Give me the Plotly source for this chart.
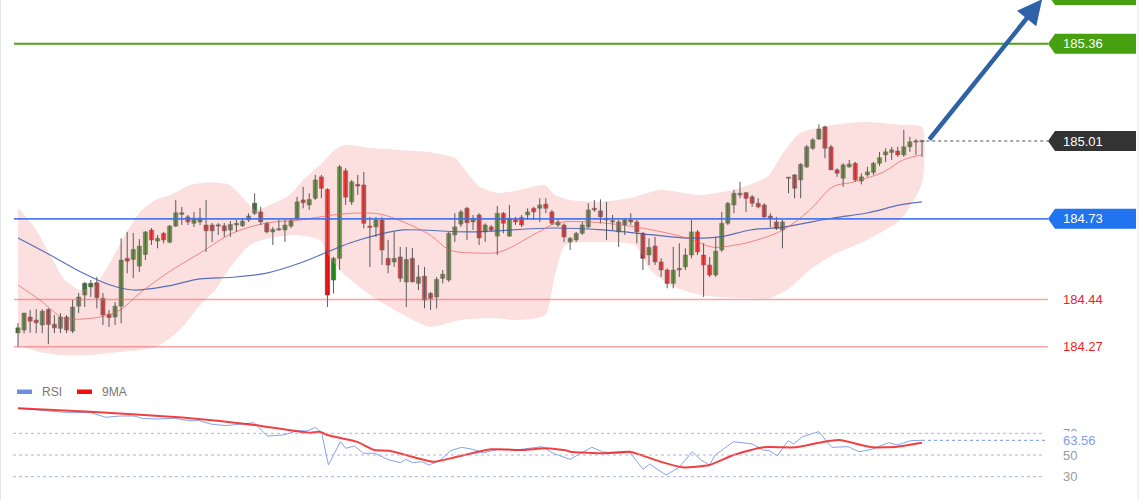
import plotly.graph_objects as go

# ---------------- data ----------------
open_ = [184.320, 184.330, 184.377, 184.366, 184.348, 184.404, 184.351, 184.336, 184.377, 184.326,
         184.416, 184.456, 184.485, 184.500, 184.444, 184.387, 184.377, 184.416, 184.588, 184.584,
         184.560, 184.602, 184.690, 184.650, 184.678, 184.646, 184.704, 184.746, 184.737, 184.714,
         184.719, 184.708, 184.708, 184.708, 184.705, 184.690, 184.708, 184.705, 184.726, 184.750,
         184.755, 184.714, 184.683, 184.690, 184.690, 184.704, 184.732, 184.798, 184.780, 184.804,
         184.881, 184.836, 184.510, 184.588, 184.903, 184.791, 184.854, 184.852, 184.704, 184.701,
         184.726, 184.588, 184.575, 184.593, 184.503, 184.588, 184.498, 184.524, 184.462, 184.449,
         184.516, 184.510, 184.672, 184.711, 184.768, 184.719, 184.744, 184.683, 184.701, 184.668,
         184.750, 184.668, 184.728, 184.735, 184.744, 184.768, 184.768, 184.783, 184.755, 184.708,
         184.708, 184.647, 184.654, 184.678, 184.701, 184.768, 184.759, 184.732, 184.723, 184.683,
         184.708, 184.726, 184.719, 184.678, 184.600, 184.632, 184.575, 184.546, 184.498, 184.546,
         184.557, 184.600, 184.683, 184.600, 184.564, 184.528, 184.618, 184.714, 184.780, 184.816,
         184.824, 184.809, 184.786, 184.780, 184.740, 184.719, 184.690, 184.876, 184.888, 184.870,
         184.917, 184.984, 185.017, 185.061, 184.989, 184.906, 184.876, 184.917, 184.930, 184.866,
         184.888, 184.897, 184.930, 184.960, 184.969, 184.974, 184.960, 184.989, 185.006, 185.007]
high = [184.355, 184.392, 184.402, 184.405, 184.405, 184.409, 184.384, 184.391, 184.384, 184.438,
        184.463, 184.503, 184.510, 184.521, 184.463, 184.402, 184.431, 184.660, 184.683, 184.679,
        184.657, 184.686, 184.697, 184.672, 184.683, 184.708, 184.798, 184.773, 184.744, 184.755,
        184.769, 184.798, 184.715, 184.715, 184.715, 184.722, 184.726, 184.732, 184.750, 184.822,
        184.773, 184.719, 184.701, 184.726, 184.726, 184.733, 184.809, 184.845, 184.822, 184.888,
        184.888, 184.840, 184.593, 184.924, 184.912, 184.870, 184.888, 184.899, 184.737, 184.737,
        184.737, 184.654, 184.683, 184.629, 184.629, 184.625, 184.564, 184.557, 184.467, 184.521,
        184.546, 184.683, 184.750, 184.762, 184.773, 184.744, 184.750, 184.714, 184.708, 184.776,
        184.755, 184.780, 184.737, 184.744, 184.768, 184.773, 184.804, 184.804, 184.762, 184.728,
        184.714, 184.665, 184.683, 184.719, 184.786, 184.798, 184.800, 184.791, 184.744, 184.726,
        184.732, 184.750, 184.726, 184.683, 184.660, 184.665, 184.588, 184.552, 184.629, 184.642,
        184.624, 184.726, 184.690, 184.642, 184.593, 184.665, 184.755, 184.791, 184.834, 184.863,
        184.827, 184.816, 184.804, 184.786, 184.750, 184.737, 184.726, 184.878, 184.891, 184.930,
        184.996, 185.020, 185.070, 185.065, 184.996, 184.912, 184.930, 184.942, 184.935, 184.894,
        184.917, 184.935, 184.971, 184.984, 184.989, 184.989, 185.050, 185.025, 185.017, 185.014]
low = [184.269, 184.318, 184.320, 184.319, 184.319, 184.279, 184.319, 184.319, 184.319, 184.319,
       184.391, 184.413, 184.449, 184.408, 184.348, 184.341, 184.348, 184.354, 184.534, 184.517,
       184.539, 184.582, 184.636, 184.624, 184.642, 184.642, 184.701, 184.708, 184.708, 184.701,
       184.708, 184.611, 184.647, 184.672, 184.665, 184.665, 184.683, 184.701, 184.719, 184.744,
       184.708, 184.678, 184.636, 184.687, 184.647, 184.697, 184.726, 184.768, 184.762, 184.798,
       184.804, 184.413, 184.462, 184.546, 184.780, 184.780, 184.816, 184.696, 184.557, 184.665,
       184.564, 184.534, 184.557, 184.503, 184.413, 184.502, 184.474, 184.408, 184.402, 184.408,
       184.498, 184.503, 184.647, 184.701, 184.654, 184.690, 184.636, 184.647, 184.683, 184.600,
       184.678, 184.665, 184.708, 184.701, 184.726, 184.726, 184.719, 184.750, 184.708, 184.701,
       184.647, 184.618, 184.647, 184.672, 184.696, 184.755, 184.714, 184.654, 184.690, 184.629,
       184.672, 184.708, 184.642, 184.546, 184.564, 184.564, 184.521, 184.480, 184.480, 184.521,
       184.546, 184.588, 184.600, 184.449, 184.521, 184.521, 184.611, 184.708, 184.750, 184.804,
       184.755, 184.773, 184.768, 184.732, 184.701, 184.690, 184.624, 184.822, 184.804, 184.804,
       184.913, 184.978, 185.014, 184.948, 184.906, 184.881, 184.845, 184.914, 184.863, 184.854,
       184.881, 184.888, 184.920, 184.935, 184.942, 184.953, 184.953, 184.971, 184.960, 184.953]
close = [184.338, 184.391, 184.362, 184.356, 184.398, 184.350, 184.338, 184.377, 184.330, 184.413,
         184.449, 184.498, 184.498, 184.446, 184.384, 184.375, 184.416, 184.582, 184.578, 184.620,
         184.632, 184.683, 184.654, 184.660, 184.654, 184.704, 184.752, 184.752, 184.719, 184.732,
         184.733, 184.687, 184.687, 184.704, 184.687, 184.710, 184.714, 184.722, 184.740, 184.786,
         184.719, 184.683, 184.692, 184.692, 184.708, 184.723, 184.791, 184.788, 184.800, 184.870,
         184.840, 184.456, 184.588, 184.917, 184.808, 184.863, 184.848, 184.714, 184.699, 184.726,
         184.618, 184.564, 184.588, 184.516, 184.584, 184.503, 184.521, 184.438, 184.444, 184.512,
         184.531, 184.678, 184.701, 184.755, 184.716, 184.732, 184.661, 184.708, 184.690, 184.750,
         184.714, 184.732, 184.719, 184.708, 184.755, 184.755, 184.780, 184.768, 184.714, 184.719,
         184.665, 184.660, 184.678, 184.708, 184.762, 184.762, 184.737, 184.726, 184.719, 184.719,
         184.726, 184.719, 184.683, 184.588, 184.627, 184.575, 184.546, 184.498, 184.546, 184.552,
         184.600, 184.683, 184.611, 184.564, 184.528, 184.614, 184.714, 184.786, 184.822, 184.822,
         184.804, 184.786, 184.773, 184.737, 184.732, 184.696, 184.719, 184.878, 184.840, 184.926,
         184.989, 185.014, 185.053, 184.984, 184.906, 184.894, 184.924, 184.927, 184.870, 184.881,
         184.899, 184.930, 184.950, 184.971, 184.978, 184.960, 184.989, 185.007, 185.008, 185.010]

# Bollinger band (upper / lower / middle) and slow moving average, read at candle positions
bb_upper_x = [0, 2.8, 5.3, 7.7, 10.2, 12.7, 15.2, 17.6, 20.1, 22.6, 25.1, 28.4, 31.6, 34.9, 37.4,
              39.1, 41.5, 44.8, 47.3, 49.8, 52.2, 53.9, 58.0, 63.0, 67.9, 72.0, 73.7, 76.1, 79.4,
              82.7, 86.9, 88.5, 91.0, 95.9, 100.9, 105.8, 112.4, 117.9, 123.5, 126.1, 128.9, 134.3,
              139.9, 145.4, 149]
bb_upper = [184.769, 184.697, 184.600, 184.510, 184.474, 184.492, 184.574, 184.672, 184.754, 184.798,
            184.816, 184.852, 184.862, 184.852, 184.798, 184.762, 184.780, 184.816, 184.877, 184.924,
            184.978, 184.996, 184.985, 184.978, 184.970, 184.949, 184.906, 184.845, 184.823, 184.834,
            184.852, 184.816, 184.798, 184.791, 184.805, 184.834, 184.816, 184.834, 184.881, 184.967,
            185.039, 185.068, 185.078, 185.068, 185.060]
bb_lower_x = [0, 3.6, 6.9, 11.9, 16.8, 20.1, 23.4, 26.7, 30.0, 32.5, 34.9, 38.2, 41.5, 45.7, 49.8,
              51.4, 53.9, 58.0, 63.0, 67.9, 72.9, 77.8, 82.7, 86.9, 88.5, 90.2, 95.9, 101.7, 104.2,
              107.5, 112.4, 119.0, 124.0, 127.2, 130.5, 134.3, 139.9, 145.4, 149]
bb_lower = [184.276, 184.251, 184.240, 184.240, 184.251, 184.258, 184.276, 184.330, 184.420, 184.474,
            184.553, 184.636, 184.661, 184.672, 184.654, 184.589, 184.528, 184.456, 184.391, 184.341,
            184.366, 184.373, 184.366, 184.384, 184.528, 184.636, 184.647, 184.636, 184.546, 184.492,
            184.456, 184.445, 184.445, 184.481, 184.546, 184.600, 184.654, 184.726, 184.859]
bb_mid_x = [0, 3.6, 7.4, 9.1, 13.5, 16.8, 20.1, 24.6, 30.0, 35.4, 41.0, 46.5, 51.9, 56.4, 59.7,
            63.5, 67.9, 71.2, 76.1, 79.4, 85.5, 88.8, 93.8, 102.0, 110.3, 114.6, 118.2, 120.7,
            126.1, 130.5, 134.3, 137.6, 142.6, 145.9, 149]
bb_mid = [184.492, 184.438, 184.373, 184.369, 184.377, 184.402, 184.463, 184.535, 184.607, 184.679,
          184.715, 184.726, 184.744, 184.751, 184.747, 184.719, 184.672, 184.618, 184.607, 184.611,
          184.679, 184.715, 184.719, 184.700, 184.661, 184.628, 184.636, 184.647, 184.690, 184.762,
          184.845, 184.862, 184.898, 184.942, 184.960]
ma_slow_x = [0, 5.3, 10.7, 15.2, 19.0, 24.6, 30.0, 35.4, 41.0, 46.5, 50.9, 54.7, 59.7, 63.5, 74.5,
             88.2, 96.4, 104.7, 110.3, 115.7, 120.7, 126.1, 134.3, 139.9, 145.4, 149]
ma_slow = [184.661, 184.600, 184.535, 184.492, 184.474, 184.488, 184.514, 184.520, 184.535, 184.571,
           184.610, 184.643, 184.675, 184.690, 184.683, 184.697, 184.690, 184.672, 184.661, 184.665,
           184.690, 184.700, 184.733, 184.751, 184.780, 184.791]

# RSI panel (x = candle position)
rsi_x = [0.0, 4.76, 8.36, 11.95, 14.47, 16.81, 19.15, 20.41, 22.75, 25.8, 28.14, 29.93, 31.73, 34.25,
         38.39, 38.93, 41.09, 43.78, 46.12, 47.73, 49.0, 50.07, 51.16, 53.14, 54.03, 55.47, 56.9,
         58.71, 61.23, 63.03, 63.92, 65.01, 66.62, 67.69, 69.49, 71.29, 73.1, 74.9, 76.69, 79.2,
         82.08, 84.6, 86.4, 88.2, 90.54,
         90.98, 92.78, 94.58, 96.37, 98.17, 100.87, 103.03, 104.1, 106.81, 108.97, 111.13, 112.56,
         113.99, 114.9, 117.95, 121.01, 122.81, 123.88, 125.15, 126.95, 127.84, 129.29, 131.98,
         134.13, 136.84, 138.63, 140.79, 143.48, 144.93, 147.09, 149.0]
rsi = [93.1, 90.9, 89.1, 89.1, 84.8, 86.0, 86.0, 83.9, 83.2, 83.9, 81.7, 81.7, 78.6, 77.1, 79.3, 79.8,
       67.5, 68.5, 72.4, 72.2, 75.6, 70.0, 40.8, 62.3, 56.2, 58.3, 51.6, 51.6, 45.4, 42.9, 46.0,
       42.9, 43.8, 40.8, 44.7, 54.0, 57.1, 55.3, 52.1, 55.3, 54.6, 56.2, 57.7, 51.6, 47.0,
       46.0, 51.6, 57.1, 53.0, 51.6, 52.1, 36.8, 41.7, 31.5, 38.6, 53.0, 45.4, 40.8, 50.0, 62.3,
       60.2, 54.6, 54.0, 49.1, 63.2, 60.2, 66.9, 71.5, 57.1, 57.7, 53.0, 55.3, 61.4, 59.2, 63.2, 63.56]
rsi_ma_x = [0.0, 11.95, 27.06, 38.93, 47.92, 49.71, 50.98, 55.83, 58.71, 61.23, 68.42, 72.01, 77.95,
            83.34, 86.94, 90.54, 90.98, 96.92, 100.87, 105.92, 109.53, 113.99, 117.95, 122.81, 128.2,
            132.87, 135.39, 140.79, 144.93, 149.0]
rsi_ma = [93.1, 90.0, 84.5, 77.7, 70.6, 71.5, 68.5, 62.3, 54.6, 54.0, 43.8, 47.9, 55.3, 54.6, 56.2,
          54.0, 53.0, 51.6, 53.0, 43.8, 38.6, 40.8, 50.0, 57.1, 57.1, 62.3, 63.8, 57.1, 57.7, 61.4]
rsi_levels = [70, 50, 30]
rsi_last = 63.56

# key price levels
resistance_hidden = 185.535
resistance = 185.36
last_price = 185.01
pivot = 184.73
support1 = 184.44
support2 = 184.27
target_price = 185.52

# ---------------- geometry / style ----------------
W, H = 1140, 500
X_RANGE = [-2.967, 184.93]
Y_RANGE = [184.2043, 185.5172]
Y2_RANGE = [8.46, 128.46]
FONT = "Liberation Sans, Arial, sans-serif"
GREEN_BODY = "#25891c"
RED_BODY = "#e80a0a"
WICK = "#5a5a5a"


def xp(px):
    return px / W


def idx_to_paper(i):
    return (i - X_RANGE[0]) / (X_RANGE[1] - X_RANGE[0])


PX_PER_PRICE = 500 * (1 - 0.27) / (Y_RANGE[1] - Y_RANGE[0])

n = len(close)
idx = list(range(n))

fig = go.Figure()

# Bollinger band fill
fig.add_trace(go.Scatter(
    x=bb_upper_x + bb_lower_x[::-1], y=bb_upper + bb_lower[::-1],
    fill="toself", fillcolor="rgba(245,160,160,0.34)", line=dict(width=0, shape="spline", smoothing=0.6),
    mode="lines", hoverinfo="skip", xaxis="x", yaxis="y"))

# moving averages
fig.add_trace(go.Scatter(x=ma_slow_x, y=ma_slow, mode="lines",
                         line=dict(color="rgba(60,90,175,0.85)", width=1.2, shape="spline"),
                         xaxis="x", yaxis="y"))
fig.add_trace(go.Scatter(x=bb_mid_x, y=bb_mid, mode="lines",
                         line=dict(color="rgba(240,100,100,0.75)", width=1, shape="spline"),
                         xaxis="x", yaxis="y"))

# wicks
wx, wy = [], []
for i in idx:
    wx += [i, i, None]
    wy += [low[i], high[i], None]
fig.add_trace(go.Scatter(x=wx, y=wy, mode="lines", line=dict(color=WICK, width=1),
                         hoverinfo="skip", xaxis="x", yaxis="y"))

# bodies
base = [min(o, c) for o, c in zip(open_, close)]
height = [max(abs(c - o), 0.0045) for o, c in zip(open_, close)]
colors = [GREEN_BODY if c >= o else RED_BODY for o, c in zip(open_, close)]
fig.add_trace(go.Bar(x=idx, y=height, base=base, width=0.7,
                     marker=dict(color=colors, line=dict(color="#444444", width=0.5)),
                     xaxis="x", yaxis="y"))

# RSI
fig.add_trace(go.Scatter(x=rsi_x, y=rsi, mode="lines", line=dict(color="#86a2ea", width=1),
                         xaxis="x", yaxis="y2"))
fig.add_trace(go.Scatter(x=rsi_ma_x, y=rsi_ma, mode="lines",
                         line=dict(color="rgba(240,30,30,0.85)", width=2, shape="spline", smoothing=0.5),
                         xaxis="x", yaxis="y2"))

shapes = []
annotations = []

LINE_X0 = xp(14)
TAG_TIP = xp(1048)
TAG_RIGHT = xp(1136)
TAG_CHAMFER = xp(7)
TAG_H = 20 / PX_PER_PRICE
TEXT_X = xp(1061)


def tag(y, color):
    h = TAG_H / 2
    path = (f"M {TAG_TIP},{y} L {TAG_TIP + TAG_CHAMFER},{y + h} L {TAG_RIGHT},{y + h} "
            f"L {TAG_RIGHT},{y - h} L {TAG_TIP + TAG_CHAMFER},{y - h} Z")
    shapes.append(dict(type="path", path=path, xref="paper", yref="y",
                       fillcolor=color, line=dict(width=0), layer="above"))


def label(y, text, color, yref="y", size=13, bg=None):
    a = dict(x=TEXT_X, y=y, xref="paper", yref=yref, text=text, showarrow=False,
             xanchor="left", yanchor="middle", font=dict(family=FONT, size=size, color=color))
    if bg:
        a.update(bgcolor=bg, borderpad=1)
    annotations.append(a)


def hline(y, color, width, dash="solid", x0=LINE_X0, x1=TAG_TIP, yref="y"):
    shapes.append(dict(type="line", xref="paper", yref=yref, x0=x0, x1=x1, y0=y, y1=y,
                       line=dict(color=color, width=width, dash=dash), layer="above"))


# level lines
hline(resistance, "#4ea21a", 2)
hline(pivot, "rgba(60,110,235,0.9)", 1.8)
hline(support1, "rgba(240,90,90,0.55)", 1.5)
hline(support2, "rgba(240,90,90,0.55)", 1.5)
hline(last_price, "#8a8a8a", 1.5, dash="dot", x0=idx_to_paper(n - 0.3))

tag(resistance_hidden, "#46a010")
tag(resistance, "#46a010")
tag(last_price, "#333333")
tag(pivot, "#2273ef")
label(resistance, f"{resistance:.2f}", "white")
label(last_price, f"{last_price:.2f}", "white")
label(pivot, f"{pivot:.2f}", "white")
label(support1, f"{support1:.2f}", "#ee2222")
label(support2, f"{support2:.2f}", "#ee2222")

# trend arrow
annotations.append(dict(x=168.8, y=target_price, xref="x", yref="y",
                        ax=n, ay=last_price, axref="x", ayref="y",
                        showarrow=True, arrowhead=2, arrowsize=1.1, arrowwidth=4.5,
                        arrowcolor="#2d62a6", standoff=0, startstandoff=0, text=""))

# RSI grid / labels
RSI_GRID_X0 = xp(13)
RSI_GRID_X1 = xp(1045)
for lv in rsi_levels:
    hline(lv, "#aab6dc", 1, dash="dot", x0=RSI_GRID_X0, x1=RSI_GRID_X1, yref="y2")
    label(lv, str(lv), "#9a9a9a", yref="y2", size=13)
hline(rsi_last, "#8fa8ea", 1.2, dash="dot", x0=idx_to_paper(rsi_x[-1]), x1=RSI_GRID_X1, yref="y2")
label(rsi_last, f"{rsi_last:.2f}", "#7f9de8", yref="y2", size=13, bg="white")

# manual legend
LEG_Y = 1 - 392 / H
for x0, x1, col, txt, tx in [(17, 32, "#6f8fe0", "RSI", 40), (77, 92, "#f01010", "9MA", 100)]:
    shapes.append(dict(type="rect", xref="paper", yref="paper", x0=xp(x0), x1=xp(x1),
                       y0=LEG_Y - 2 / H, y1=LEG_Y + 2.5 / H, fillcolor=col, line=dict(width=0)))
    annotations.append(dict(x=xp(tx), y=LEG_Y, xref="paper", yref="paper", text=txt, showarrow=False,
                            xanchor="left", yanchor="middle",
                            font=dict(family=FONT, size=12, color="#777777")))

# faint frame edges
for px in (0.5, 1138):
    shapes.append(dict(type="line", xref="paper", yref="paper", x0=xp(px), x1=xp(px), y0=0, y1=1,
                       line=dict(color="#e6e6e6", width=1)))

fig.update_layout(
    width=W, height=H, margin=dict(l=0, r=0, t=0, b=0),
    paper_bgcolor="white", plot_bgcolor="white", showlegend=False, barmode="overlay",
    xaxis=dict(domain=[0, 1], range=X_RANGE, visible=False, fixedrange=True),
    yaxis=dict(domain=[0.27, 1.0], range=Y_RANGE, visible=False, fixedrange=True),
    yaxis2=dict(domain=[0.0, 0.26], range=Y2_RANGE, visible=False, anchor="x"),
    shapes=shapes, annotations=annotations, font=dict(family=FONT),
)

fig.write_html("out.html")
